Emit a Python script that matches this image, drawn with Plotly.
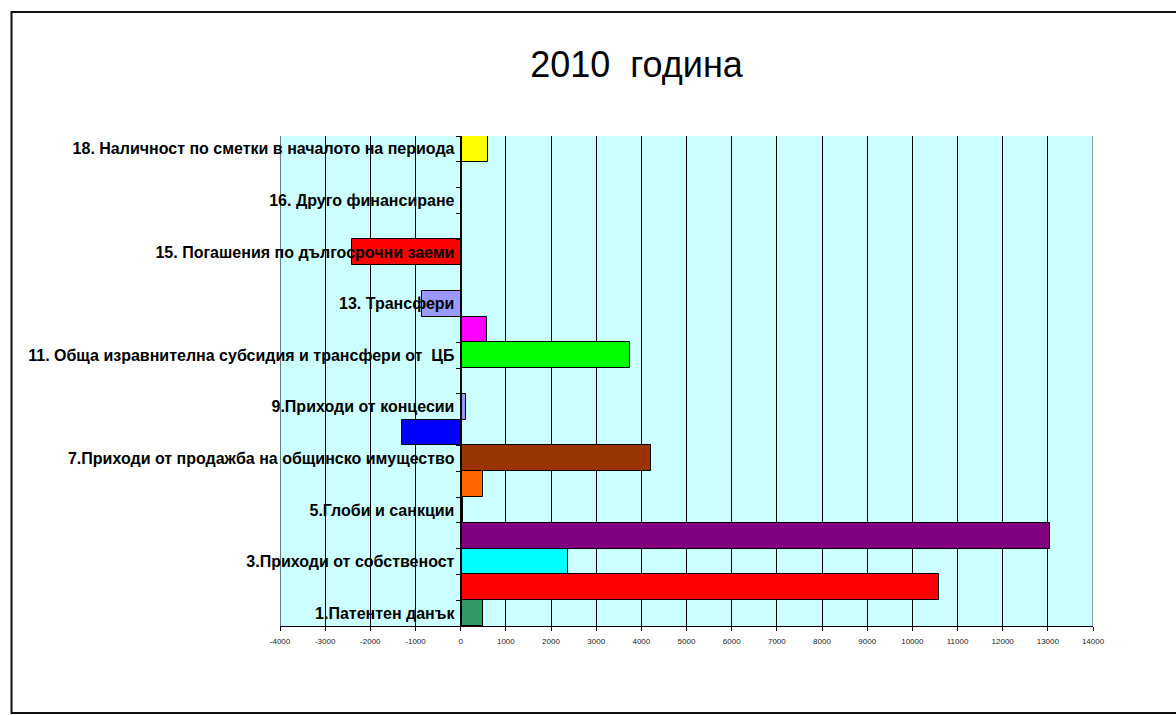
import plotly.graph_objects as go

# ---- data ----
categories = [
    "1.Патентен данък",
    "2.Имуществени данъци",
    "3.Приходи от собственост",
    "4.Общински такси",
    "5.Глоби и санкции",
    "6.Други неданъчни приходи",
    "7.Приходи от продажба на общинско имущество",
    "8.Внесени ДДС и други данъци",
    "9.Приходи от концесии",
    "10. Помощи и дарения",
    "11. Обща изравнителна субсидия и трансфери от\u00a0\u00a0ЦБ",
    "12. Целева субсидия за капиталови разходи",
    "13. Трансфери",
    "14. Временни безлихвени заеми",
    "15. Погашения по дългосрочни заеми",
    "15а. Получени дългосрочни заеми",
    "16. Друго финансиране",
    "17. Депозити и средства по сметки",
    "18. Наличност по сметки в началото на периода",
]
values = [500, 10600, 2380, 13050, 55, 490, 4210, -1300, 120, None,
          3750, 590, -860, None, -2400, None, None, None, 610]
colors = ["#339966", "#FF0000", "#00FFFF", "#800080", "#339966", "#FF6600",
          "#993300", "#0000FF", "#9999FF", "#FFFFFF", "#00FF00", "#FF00FF",
          "#9999FF", "#FFFFFF", "#FF0000", "#FFFFFF", "#FFFFFF", "#FFFFFF",
          "#FFFF00"]
shown_labels = [c if i % 2 == 0 else "" for i, c in enumerate(categories)]
x_ticks = [-4000, -3000, -2000, -1000, 0, 1000, 2000, 3000, 4000, 5000,
           6000, 7000, 8000, 9000, 10000, 11000, 12000, 13000, 14000]
x_tick_labels = [str(v) for v in x_ticks]
x_range = [-4000, 14000]
title_text = "2010  година"

FONT = "Liberation Sans, Arial, sans-serif"

fig = go.Figure(
    go.Bar(
        x=values,
        y=categories,
        orientation="h",
        marker=dict(color=colors, line=dict(color="black", width=1)),
        showlegend=False,
    )
)

# plot area in pixels: x 280..1093, y 136..626
L, R, T, B = 280, 1176 - 1093, 136, 715 - 626
W, H = 1176 - L - R, 715 - T - B

zero_pos = (0 - x_range[0]) / (x_range[1] - x_range[0])

edge_lines = [
    dict(type="line", xref="x", yref="paper", x0=xv, x1=xv, y0=0, y1=1,
         line=dict(color=c, width=1), layer="below")
    for xv, c in zip(x_range, ["black", "#444444"])
]

fig.update_layout(
    template="none",
    width=1176,
    height=715,
    margin=dict(l=L, r=R, t=T, b=B, autoexpand=False),
    paper_bgcolor="white",
    plot_bgcolor="#CCFFFF",
    bargap=0,
    font=dict(family=FONT, color="black"),
    title=dict(
        text=title_text,
        font=dict(family=FONT, size=36, color="black"),
        xref="paper",
        x=(636.5 - L) / W,
        xanchor="center",
        yref="container",
        y=1 - 64 / 715,
        yanchor="middle",
    ),
    xaxis=dict(
        range=x_range,
        tickmode="array",
        tickvals=x_ticks,
        ticktext=x_tick_labels,
        showgrid=True,
        gridcolor="black",
        gridwidth=1,
        zeroline=False,
        showline=True,
        linecolor="black",
        linewidth=1,
        ticks="outside",
        ticklen=4,
        tickcolor="black",
        tickfont=dict(family=FONT, size=8, color="#222222"),
        ticklabelstandoff=3,
        automargin=False,
        fixedrange=True,
    ),
    yaxis=dict(
        type="category",
        categoryorder="array",
        categoryarray=categories,
        tickmode="array",
        tickvals=categories,
        ticktext=shown_labels,
        tickson="boundaries",
        anchor="free",
        position=zero_pos,
        showgrid=False,
        zeroline=False,
        showline=True,
        linecolor="black",
        linewidth=1,
        ticks="outside",
        ticklen=5,
        tickcolor="black",
        tickfont=dict(family=FONT, size=16, color="black", weight="bold"),
        ticklabelstandoff=3,
        layer="above traces",
        automargin=False,
        fixedrange=True,
    ),
    shapes=edge_lines + [
        dict(
            type="rect",
            xref="paper",
            yref="paper",
            x0=(11.5 - L) / W,
            x1=(1180 - L) / W,
            y0=(715 - B - 713) / H,
            y1=(715 - B - 12) / H,
            line=dict(color="#111111", width=2),
            fillcolor="rgba(0,0,0,0)",
            layer="below",
        )
    ],
)

fig.write_html(
    "out.html",
    config={"displayModeBar": False},
    post_script="document.body.style.margin='0';document.body.style.overflow='hidden';",
)
